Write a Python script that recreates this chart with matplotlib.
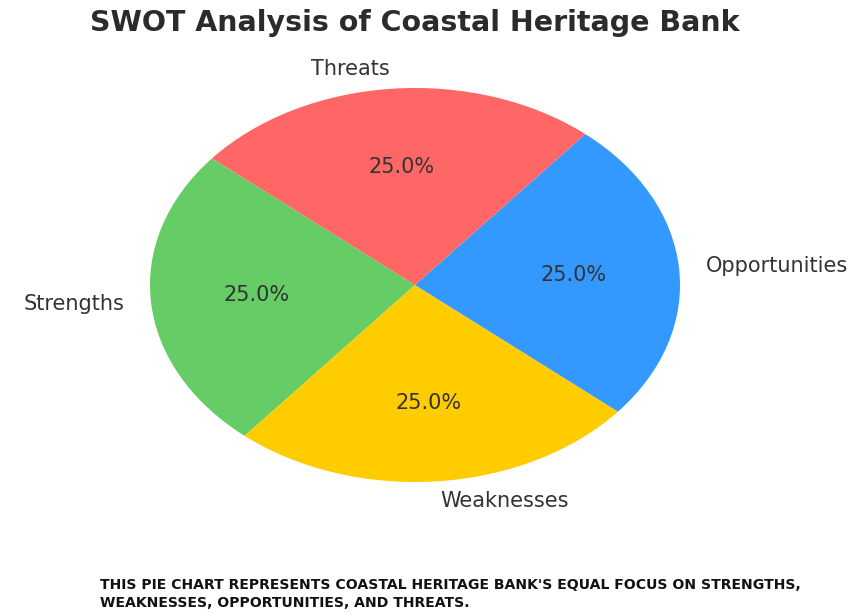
import matplotlib
matplotlib.use("Agg")
import matplotlib.pyplot as plt

categories = ["Strengths", "Weaknesses", "Opportunities", "Threats"]
values = [25, 25, 25, 25]
colors = ["#66CC66", "#FFCC00", "#3399FF", "#FF6666"]
title = "SWOT Analysis of Coastal Heritage Bank"
note = ("THIS PIE CHART REPRESENTS COASTAL HERITAGE BANK'S EQUAL FOCUS ON STRENGTHS,\n"
        "WEAKNESSES, OPPORTUNITIES, AND THREATS.")

fig = plt.figure(figsize=(8.67, 6.16), dpi=100)
ax = fig.add_axes([0.0, 0.0896, 830 / 867, 0.8955])
wedges, texts, autotexts = ax.pie(values, labels=categories, colors=colors,
                                  autopct="%1.1f%%", startangle=140,
                                  textprops={"fontsize": 15, "color": "#333333"})
ax.set_aspect("auto")
ax.set_xlim(-1.566, 1.566)
ax.set_ylim(-1.4, 1.4)
ax.axis("off")

fig.text(415 / 867, 1 - 23 / 616, title, ha="center", va="center",
         fontsize=20.5, fontweight="bold", color="#2b2b2b")
fig.text(100 / 867, 1 - 594 / 616, note, ha="left", va="center",
         fontsize=10.05, fontweight="bold", color="#111111",
         linespacing=1.45)

fig.savefig("out.png", dpi=100)
